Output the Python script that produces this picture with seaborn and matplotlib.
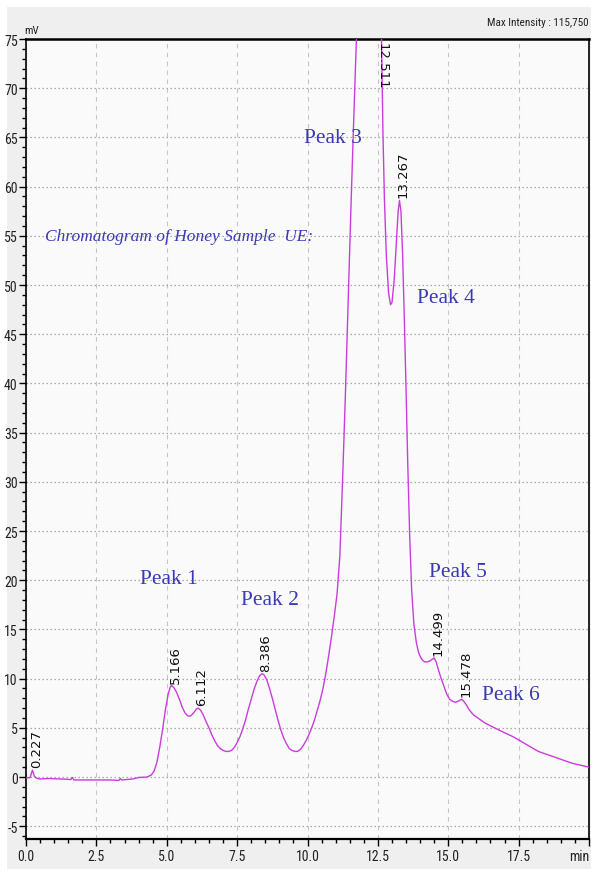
import matplotlib
matplotlib.use("Agg")
import numpy as np
import pandas as pd
import matplotlib.pyplot as plt
import seaborn as sns
from matplotlib import font_manager as fm
from matplotlib.patches import Rectangle
from matplotlib.ticker import FixedLocator, MultipleLocator

# Detector trace: retention time (min) and signal (mV)
time_min = [
    0.00, 0.15, 0.227, 0.30, 0.40, 0.50, 0.80, 1.20, 1.60, 1.65, 1.70, 2.00,
    2.50, 3.00, 3.30, 3.35, 3.40, 3.80, 4.00, 4.30, 4.45, 4.55, 4.65, 4.75,
    4.85, 4.95, 5.05, 5.12, 5.166, 5.25, 5.35, 5.45, 5.55, 5.65, 5.75, 5.85,
    5.95, 6.05, 6.112, 6.20, 6.30, 6.40, 6.50, 6.60, 6.70, 6.80, 6.90, 7.00,
    7.10, 7.20, 7.30, 7.40, 7.50, 7.60, 7.70, 7.80, 7.90, 8.00, 8.10, 8.20,
    8.30, 8.386, 8.45, 8.55, 8.65, 8.75, 8.85, 8.95, 9.05, 9.15, 9.25, 9.35,
    9.45, 9.55, 9.65, 9.75, 9.85, 9.95, 10.05, 10.15, 10.25, 10.35, 10.45,
    10.55, 10.65, 10.75, 10.85, 10.95, 11.05, 11.15, 11.25, 11.35, 11.45,
    11.55, 11.65, 11.75, 11.90, 12.05, 12.20, 12.35, 12.45, 12.511, 12.56,
    12.60, 12.63, 12.68, 12.73, 12.80, 12.88, 12.95, 13.00, 13.08, 13.16,
    13.22, 13.267, 13.32, 13.38, 13.44, 13.50, 13.56, 13.63, 13.70, 13.78,
    13.87, 13.95, 14.05, 14.15, 14.25, 14.35, 14.45, 14.499, 14.57, 14.65,
    14.75, 14.85, 14.95, 15.05, 15.15, 15.25, 15.35, 15.478, 15.55, 15.65,
    15.75, 15.90, 16.10, 16.30, 16.50, 16.75, 17.00, 17.30, 17.60, 17.90,
    18.20, 18.50, 18.80, 19.10, 19.40, 19.70, 20.00,
]
signal_mv = [
    -0.10, -0.05, 0.70, 0.05, -0.15, -0.20, -0.15, -0.20, -0.25, -0.05, -0.30, -0.30,
    -0.30, -0.30, -0.35, -0.15, -0.30, -0.20, -0.05, 0.00, 0.20, 0.60, 1.50, 3.00,
    4.80, 6.80, 8.40, 9.10, 9.30, 9.10, 8.60, 7.90, 7.10, 6.50, 6.20, 6.20,
    6.50, 6.90, 7.00, 6.80, 6.30, 5.60, 5.00, 4.30, 3.70, 3.20, 2.90, 2.70,
    2.60, 2.60, 2.70, 3.00, 3.50, 4.10, 4.90, 5.80, 6.90, 7.90, 8.90, 9.70,
    10.30, 10.50, 10.40, 9.90, 9.00, 8.00, 6.90, 5.80, 4.80, 4.00, 3.40, 2.90,
    2.70, 2.60, 2.60, 2.80, 3.20, 3.70, 4.30, 5.00, 5.80, 6.80, 7.80,
    9.00, 10.50, 12.30, 14.20, 16.30, 18.60, 22.50, 30.50, 39.20, 48.90,
    58.50, 67.50, 76.00, 89.00, 100.00, 108.50, 113.80, 115.40, 115.75, 100.00,
    82.00, 75.00, 65.50, 59.00, 53.00, 49.20, 48.00, 48.20, 50.50, 54.50,
    57.50, 58.60, 57.50, 53.00, 46.50, 39.50, 32.00, 24.50, 19.00, 15.50,
    13.60, 12.60, 12.00, 11.70, 11.70, 11.80, 12.00, 12.10, 11.70, 10.90,
    10.00, 9.20, 8.40, 7.90, 7.70, 7.60, 7.70, 7.90, 7.70, 7.30,
    6.80, 6.30, 5.90, 5.50, 5.20, 4.85, 4.50, 4.10, 3.60, 3.10,
    2.60, 2.30, 2.00, 1.70, 1.40, 1.20, 1.00,
]

# Retention-time annotations
peak_times = [0.227, 5.166, 6.112, 8.386, 12.511, 13.267, 14.499, 15.478]
peak_time_labels = ["0.227", "5.166", "6.112", "8.386", "12.511", "13.267", "14.499", "15.478"]

# Peak names and where they sit (min, mV)
peak_names = ["Peak 1", "Peak 2", "Peak 3", "Peak 4", "Peak 5", "Peak 6"]
peak_name_x = [5.09, 8.65, 10.90, 14.93, 15.34, 17.22]
peak_name_y = [20.2, 18.0, 65.0, 48.7, 20.9, 8.4]

title_text = "Chromatogram of Honey Sample  UE:"
max_intensity_text = "Max Intensity : 115,750"

x_ticks = [0.0, 2.5, 5.0, 7.5, 10.0, 12.5, 15.0, 17.5, 20.0]
x_tick_labels = ["0.0", "2.5", "5.0", "7.5", "10.0", "12.5", "15.0", "17.5", "min"]
y_ticks = [-5, 0, 5, 10, 15, 20, 25, 30, 35, 40, 45, 50, 55, 60, 65, 70, 75]
y_tick_labels = [str(v) for v in y_ticks]

available = {f.name for f in fm.fontManager.ttflist}


def first_font(*names):
    for n in names:
        if n in available:
            return n
    return "DejaVu Sans"


narrow_font = first_font("Liberation Sans Narrow", "Arial Narrow", "DejaVu Sans Condensed",
                         "Roboto Condensed", "Liberation Sans")
serif_font = first_font("Liberation Serif", "DejaVu Serif")

W, H = 591, 870
fig = plt.figure(figsize=(W / 100, H / 100), dpi=100, facecolor="white")

# grey instrument panel behind the plot
fig.patches.append(Rectangle((7 / W, 0), 1 - 7 / W, 1 - 8 / H, transform=fig.transFigure,
                             facecolor="#efefef", edgecolor="none", zorder=-10))

left, right, top, bottom = 26, 589, 40, 840
ax = fig.add_axes([left / W, 1 - bottom / H, (right - left) / W, (bottom - top) / H])
ax.set_zorder(2)
ax.set_facecolor("#fafafa")

df = pd.DataFrame({"time": time_min, "signal": signal_mv})
sns.lineplot(data=df, x="time", y="signal", ax=ax, color="#c93ddc", linewidth=1.0,
             estimator=None, sort=False, zorder=3)

ax.set_xlim(0, 20)
ax.set_ylim(-6.3, 75)
ax.set_xlabel("")
ax.set_ylabel("")

ax.xaxis.set_major_locator(FixedLocator(x_ticks))
ax.set_xticklabels(x_tick_labels)
ax.xaxis.set_minor_locator(MultipleLocator(0.5))
ax.yaxis.set_major_locator(FixedLocator(y_ticks))
ax.set_yticklabels(y_tick_labels)
ax.yaxis.set_minor_locator(MultipleLocator(1))

ax.tick_params(axis="both", which="major", direction="out", length=5, width=1.0,
               color="black", labelsize=10, pad=2)
ax.tick_params(axis="y", which="major", pad=1)
ax.tick_params(axis="both", which="minor", direction="out", length=3, width=1.0, color="black")
for lab in ax.get_xticklabels() + ax.get_yticklabels():
    lab.set_fontfamily(narrow_font)
    lab.set_color("#222222")
ax.get_xticklabels()[-1].set_horizontalalignment("right")

ax.xaxis.grid(True, which="major", linestyle=(0, (4, 4)), color="#c4c4c4", linewidth=0.8)
ax.yaxis.grid(True, which="major", linestyle=(0, (1.2, 2)), color="#a8a8a8", linewidth=0.9)
ax.set_axisbelow(True)

for side, sp in ax.spines.items():
    sp.set_color("black")
    sp.set_linewidth(1.2)
ax.spines["top"].set_linewidth(1.8)
ax.spines["bottom"].set_linewidth(1.6)

# retention time labels, written vertically above each apex
for t, lab in zip(peak_times, peak_time_labels):
    v = float(np.interp(t, time_min, signal_mv))
    if v > 74:
        ax.text(t + 0.15, 74.7, lab, rotation=-90, ha="center", va="top",
                fontsize=9.5, family="DejaVu Sans", color="#111111", zorder=4)
    else:
        ax.text(t + 0.14, v + 0.3, lab, rotation=90, ha="center", va="bottom",
                fontsize=9.5, family="DejaVu Sans", color="#111111", zorder=4)

for name, x, y in zip(peak_names, peak_name_x, peak_name_y):
    ax.text(x, y, name, ha="center", va="center", fontsize=15.5, family=serif_font,
            color="#3a3ab4", zorder=5)

ax.text(0.67, 55.0, title_text, ha="left", va="center", fontsize=12.5, family=serif_font,
        style="italic", color="#3a3ab4", zorder=5)

fig.text(24 / W, 1 - 31 / H, "mV", ha="left", va="center", fontsize=8,
         family=narrow_font, color="#222222")
fig.text(589 / W, 1 - 23 / H, max_intensity_text, ha="right", va="center", fontsize=8,
         family=narrow_font, color="#222222")

fig.savefig("out.png", dpi=100, facecolor=fig.get_facecolor())
